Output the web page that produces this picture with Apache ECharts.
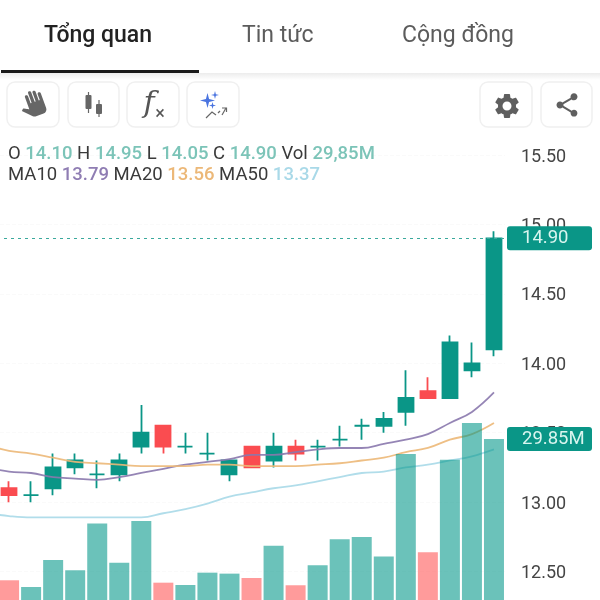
<!DOCTYPE html>
<html>
<head>
<meta charset="utf-8">
<title>Tổng quan</title>
<script src="https://cdn.jsdelivr.net/npm/echarts@6/dist/echarts.min.js"></script>
<style>
  html, body { margin: 0; padding: 0; background: #fff; }
  #main { width: 600px; height: 600px; }
</style>
</head>
<body>
<div id="main"></div>
<script>
// open, close, low, high
// first slot sits just off the left edge, only the MA lines have a value there
const opens  = [null,13.10,13.05,13.10,13.25,13.20,13.20,13.40,13.55,13.40,13.35,13.20,13.40,13.30,13.40,13.40,13.45,13.55,13.55,13.65,13.80,13.75,13.95,14.10];
const closes = [null,13.05,13.05,13.25,13.30,13.20,13.30,13.50,13.40,13.40,13.35,13.30,13.25,13.40,13.35,13.40,13.45,13.55,13.60,13.75,13.75,14.15,14.00,14.90];
const lows   = [null,13.00,13.00,13.05,13.20,13.10,13.15,13.35,13.35,13.35,13.30,13.15,13.25,13.25,13.30,13.30,13.40,13.45,13.50,13.55,13.75,13.75,13.90,14.05];
const highs  = [null,13.15,13.15,13.35,13.35,13.30,13.35,13.70,13.55,13.50,13.50,13.30,13.40,13.50,13.45,13.45,13.55,13.60,13.65,13.95,13.90,14.20,14.15,14.95];
const ma10 = [13.25,13.22,13.21,13.18,13.17,13.16,13.18,13.21,13.24,13.27,13.29,13.31,13.34,13.34,13.36,13.38,13.39,13.39,13.42,13.45,13.49,13.57,13.65,13.79];
const ma20 = [13.41,13.37,13.35,13.32,13.29,13.28,13.27,13.26,13.26,13.26,13.27,13.27,13.26,13.26,13.26,13.27,13.28,13.30,13.32,13.36,13.39,13.45,13.49,13.57];
const ma50 = [12.92,12.90,12.89,12.89,12.89,12.89,12.89,12.89,12.92,12.95,12.99,13.04,13.07,13.10,13.12,13.15,13.18,13.21,13.22,13.25,13.27,13.30,13.33,13.38];
const volumes = [null,5.19,4.02,8.74,6.94,15.09,8.27,15.56,4.77,4.37,6.52,6.35,5.59,11.24,4.32,7.81,12.36,12.76,9.32,27.22,10.09,26.22,32.64,29.85];
const upDays = [1,0,1,1,1,1,1,1,0,1,1,1,0,1,0,1,1,1,1,1,0,1,1,1];
const categories = opens.map((_, i) => String(i));

const GREEN = '#0a9687';
const RED = '#fa4c50';
const FONT = 'Roboto, sans-serif';

// icons (material style), all in a 24 box
echarts.graphic.registerShape('iconHand', echarts.graphic.extendPath('M23 5.5V20c0 2.2-1.8 4-4 4h-7.3c-1.08 0-2.1-.43-2.85-1.19L1 14.83s1.26-1.23 1.3-1.25c.22-.19.49-.29.79-.29.22 0 .42.06.6.16.04.01 4.31 2.46 4.31 2.46V4c0-.83.67-1.5 1.5-1.5S11 3.17 11 4v7h1V1.5c0-.83.67-1.5 1.5-1.5S15 .67 15 1.5V11h1V2.5c0-.83.67-1.5 1.5-1.5s1.5.67 1.5 1.5V11h1V5.5c0-.83.67-1.5 1.5-1.5s1.5.67 1.5 1.5z', {}));
echarts.graphic.registerShape('iconGear', echarts.graphic.extendPath('M19.14 12.94c.04-.3.06-.61.06-.94 0-.32-.02-.64-.07-.94l2.03-1.58c.18-.14.23-.41.12-.61l-1.92-3.32c-.12-.22-.37-.29-.59-.22l-2.39.96c-.5-.38-1.03-.7-1.62-.94l-.36-2.54c-.04-.24-.24-.41-.48-.41h-3.84c-.24 0-.43.17-.47.41l-.36 2.54c-.59.24-1.13.57-1.62.94l-2.39-.96c-.22-.08-.47 0-.59.22L2.74 8.87c-.12.21-.08.47.12.61l2.03 1.58c-.05.3-.09.63-.09.94s.02.64.07.94l-2.03 1.58c-.18.14-.23.41-.12.61l1.92 3.32c.12.22.37.29.59.22l2.39-.96c.5.38 1.03.7 1.62.94l.36 2.54c.05.24.24.41.48.41h3.84c.24 0 .44-.17.47-.41l.36-2.54c.59-.24 1.13-.56 1.62-.94l2.39.96c.22.08.47 0 .59-.22l1.92-3.32c.12-.22.07-.47-.12-.61l-2.01-1.58zM12 15.6c-1.98 0-3.6-1.62-3.6-3.6s1.62-3.6 3.6-3.6 3.6 1.62 3.6 3.6-1.62 3.6-3.6 3.6z', {}));
echarts.graphic.registerShape('iconShare', echarts.graphic.extendPath('M18 16.08c-.76 0-1.44.3-1.96.77L8.91 12.7c.05-.23.09-.46.09-.7s-.04-.47-.09-.7l7.05-4.11c.54.5 1.25.81 2.04.81 1.66 0 3-1.34 3-3s-1.34-3-3-3-3 1.34-3 3c0 .24.04.47.09.7L8.04 9.81C7.5 9.31 6.79 9 6 9c-1.66 0-3 1.34-3 3s1.34 3 3 3c.79 0 1.5-.31 2.04-.81l7.12 4.16c-.05.21-.08.43-.08.65 0 1.61 1.31 2.92 2.92 2.92 1.61 0 2.92-1.31 2.92-2.92s-1.31-2.92-2.92-2.92z', {}));
echarts.graphic.registerShape('iconStar', echarts.graphic.extendPath('M12 0L14.5 9.5L24 12L14.5 14.5L12 24L9.5 14.5L0 12L9.5 9.5Z', {}));

function button(x, w) {
  return { type: 'rect', shape: { x: x, y: 82, width: w, height: 45, r: 8 },
           style: { fill: '#fff', stroke: '#f0f0f0', lineWidth: 1.5 } };
}
function icon(type, x, y, size, fill) {
  return { type: type, x: x, y: y, scaleX: size / 24, scaleY: size / 24, style: { fill: fill } };
}
function bar(x, y, w, h) {
  return { type: 'rect', shape: { x: x, y: y, width: w, height: h, r: 1 }, style: { fill: '#666' } };
}
function stroke(points) {
  return { type: 'polyline', shape: { points: points }, style: { stroke: '#666', fill: 'none', lineWidth: 1.2 } };
}
function tab(text, x, color, weight) {
  return { type: 'text', x: x, y: 36, style: { text: text, fill: color, font: weight + ' 23px ' + FONT, textVerticalAlign: 'middle' } };
}

const graphics = [
  tab('Tổng quan', 44, '#222', 500),
  tab('Tin tức', 242, '#5c5c5c', 400),
  tab('Cộng đồng', 402, '#5c5c5c', 400),
  { type: 'rect', shape: { x: 0, y: 73, width: 600, height: 7 },
    style: { fill: new echarts.graphic.LinearGradient(0, 0, 0, 1, [{ offset: 0, color: '#ececec' }, { offset: 1, color: '#fff' }]) } },
  { type: 'rect', shape: { x: 1, y: 70, width: 198, height: 3 }, style: { fill: '#1a1a1a' } },
  button(7, 52), button(68, 51), button(127, 52), button(187, 52), button(480, 52), button(541, 51),
  Object.assign(icon('iconHand', 20, 92, 26, '#666'), { rotation: 0.35, originX: 12, originY: 12 }),
  // candle icon
  stroke([[88.5, 92], [88.5, 113]]),
  stroke([[99, 100], [99, 117]]),
  bar(85.5, 95, 6, 14), bar(96, 104, 6, 10),
  // fx icon
  { type: 'text', x: 149, y: 104, style: { text: 'f', fill: '#555', font: 'italic 300 30px "DejaVu Serif", serif', textAlign: 'center', textVerticalAlign: 'middle' } },
  { type: 'text', x: 160, y: 114, style: { text: '×', fill: '#555', font: '18px ' + FONT, textAlign: 'center', textVerticalAlign: 'middle' } },
  // sparkle icon
  icon('iconStar', 200, 93, 15, '#4a74e0'),
  icon('iconStar', 211, 91, 8, '#4a74e0'),
  icon('iconStar', 209, 102, 7, '#4a74e0'),
  stroke([[206, 118], [212, 112], [216, 115]]),
  stroke([[218, 113], [220, 111]]),
  stroke([[222, 115], [226, 108]]),
  stroke([[222, 108], [226.5, 108], [226.5, 112]]),
  icon('iconGear', 492, 91, 30, '#5f5f5f'),
  icon('iconShare', 553, 91, 28, '#5f5f5f'),
  // OHLC readout
  { type: 'text', x: 8, y: 154, z: 10, style: {
      text: 'O {g|14.10} H {g|14.95} L {g|14.05} C {g|14.90} Vol {g|29,85M}',
      fill: '#3a3a3a', font: '18.5px ' + FONT, textVerticalAlign: 'middle',
      rich: { g: { fill: '#7cc4b8', font: '500 18.5px ' + FONT } } } },
  { type: 'text', x: 8, y: 175, z: 10, style: {
      text: 'MA10 {p|13.79} MA20 {o|13.56} MA50 {b|13.37}',
      fill: '#3a3a3a', font: '18.5px ' + FONT, textVerticalAlign: 'middle',
      rich: {
        p: { fill: '#8f7db3', font: '500 18.5px ' + FONT },
        o: { fill: '#ecb878', font: '500 18.5px ' + FONT },
        b: { fill: '#a9d9e8', font: '500 18.5px ' + FONT } } } }
];

function maLine(name, data, color) {
  return { name: name, type: 'line', data: data, xAxisIndex: 0, yAxisIndex: 0, z: 3,
           smooth: 0.4, showSymbol: false, silent: true, clip: false,
           lineStyle: { color: color, width: 1.8, opacity: 0.9 } };
}
function tagLabel(text) {
  return { show: true, position: 'end', distance: 2, formatter: '{tag|' + text + '}',
           rich: { tag: { width: 70, height: 24, lineHeight: 24, align: 'left', padding: [0, 0, 0, 15],
                          color: '#d9f5ef', fontSize: 18.5, fontFamily: FONT,
                          backgroundColor: GREEN, borderRadius: 3 } } };
}

const chart = echarts.init(document.getElementById('main'));
chart.setOption({
  animation: false,
  backgroundColor: '#fff',
  graphic: graphics,
  grid: [
    { left: -24, width: 529, top: 155, bottom: -41, outerBoundsMode: 'none' },
    { left: -24, width: 529, top: 295, bottom: -10, outerBoundsMode: 'none' }
  ],
  xAxis: [
    { type: 'category', gridIndex: 0, data: categories, boundaryGap: true,
      axisLine: { show: false }, axisTick: { show: false }, axisLabel: { show: false },
      splitLine: { show: false } },
    { type: 'category', gridIndex: 1, data: categories, boundaryGap: true,
      axisLine: { show: false }, axisTick: { show: false }, axisLabel: { show: false } }
  ],
  yAxis: [
    { type: 'value', gridIndex: 0, position: 'right', min: 12, max: 15.5, interval: 0.5,
      axisLine: { show: false }, axisTick: { show: false },
      splitLine: { lineStyle: { color: '#fafafa', type: 'dashed' } },
      axisLabel: { margin: 16, formatter: v => '{a|' + v.toFixed(2) + '}',
                   rich: { a: { color: '#454545', fontSize: 18, fontFamily: FONT, padding: [4, 0, 0, 0] } } } },
    { type: 'value', gridIndex: 1, min: 0, max: 55, show: false }
  ],
  series: [
    { name: 'Price', type: 'candlestick', xAxisIndex: 0, yAxisIndex: 0, z: 2, barWidth: 15.5,
      data: opens.map((o, i) => {
        const c = upDays[i] ? GREEN : RED;
        return { value: [o, closes[i], lows[i], highs[i]],
                 itemStyle: { color: c, color0: c, borderColor: c, borderColor0: c, borderColorDoji: c, borderWidth: 1.8 } };
      }),
      markLine: {
        silent: true, symbol: 'none', animation: false, z: 6,
        lineStyle: { color: '#3aa99c', type: [3, 4], width: 1 },
        label: tagLabel(closes[closes.length - 1].toFixed(2)),
        data: [{ yAxis: closes[closes.length - 1] }]
      } },
    maLine('MA10', ma10, '#8a78ad'),
    maLine('MA20', ma20, '#ecb878'),
    maLine('MA50', ma50, '#a9d9e8'),
    { name: 'Vol', type: 'bar', xAxisIndex: 1, yAxisIndex: 1, z: 4, barWidth: 20,
      data: volumes.map((v, i) => ({
        value: v,
        itemStyle: { color: upDays[i] ? '#009688' : '#ff5252', opacity: 0.58 }
      })),
      markLine: {
        silent: true, symbol: 'none', animation: false, z: 6,
        lineStyle: { color: 'transparent' },
        label: tagLabel(volumes[volumes.length - 1].toFixed(2) + 'M'),
        data: [{ yAxis: volumes[volumes.length - 1] }]
      } }
  ]
});
</script>
</body>
</html>
